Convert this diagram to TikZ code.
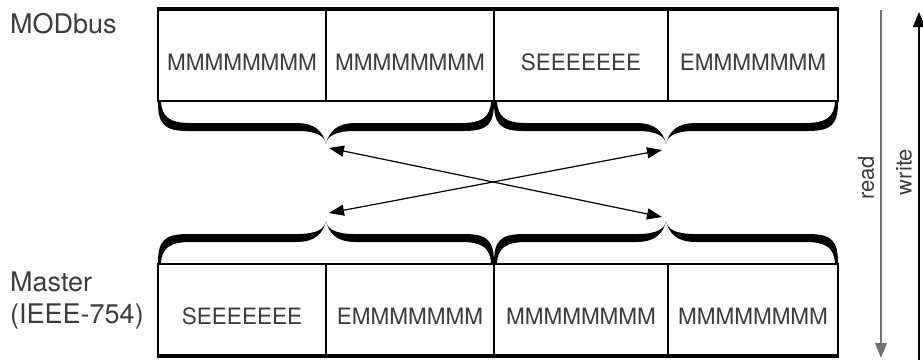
\documentclass[tikz,border=0pt]{standalone}
\usepackage{fontspec}
\setmainfont{TeX Gyre Heros}
\usetikzlibrary{arrows.meta}

\definecolor{inkgrey}{HTML}{3C3C3C}

\begin{document}
\begin{tikzpicture}[x=1pt,y=-1pt,
  cell/.style={draw=black, line width=2.6pt, minimum width=#1, minimum height=91pt, inner sep=0pt,
    text height=30pt, text depth=0pt, text=inkgrey, font=\fontsize{22.5}{22.5}\selectfont},
  side/.style={font=\fontsize{27}{32}\selectfont, text=inkgrey, inner sep=0pt},
  dirlabel/.style={rotate=90, font=\fontsize{22}{22}\selectfont, text=inkgrey, inner sep=0pt},
  swap/.style={line width=1.2pt, {Triangle[length=15pt,width=11pt]}-{Triangle[length=15pt,width=11pt]}}]
    \tikzset{halfbrace/.pic={
      % one half of a curly brace, end at (0,0), tip at (#1,42)
      \fill (0,0) .. controls (0,22) and (6,29) .. (30,29) -- (#1-28,29)
        .. controls (#1-8,29) and (#1-1,35) .. (#1,42)
        .. controls (#1-3,30) and (#1-10,21) .. (#1-30,21) -- (32,21)
        .. controls (12,21) and (4,15) .. (3,0) -- cycle;
    }}
    \useasboundingbox (0,0) rectangle (923,360);

    % MODbus word order
    \node[cell=168] (m1) at (242,55.5) {MMMMMMMM};
    \node[cell=168] (m2) at (410,55.5) {MMMMMMMM};
    \node[cell=174] (m3) at (581,55.5) {SEEEEEEE};
    \node[cell=170] (m4) at (753,55.5) {EMMMMMMM};
    \draw[line width=3.6pt] (m1.north west) -- (m4.north east);

    % master word order
    \node[cell=168] (s1) at (242,309.5) {SEEEEEEE};
    \node[cell=168] (s2) at (410,309.5) {EMMMMMMM};
    \node[cell=174] (s3) at (581,309.5) {MMMMMMMM};
    \node[cell=170] (s4) at (753,309.5) {MMMMMMMM};
    \draw[line width=3.4pt] (s1.south west) -- (s4.south east);

    \node[side, anchor=base west] (modbus) at (10,33) {MODbus};
    \node[side, anchor=base west, align=left] (master) at (10,323) {Master\\(IEEE-754)};

    % braces
    \pic at (158,102) {halfbrace=168};
    \pic[xscale=-1] at (494,102) {halfbrace=168};
    \pic at (494,102) {halfbrace=172};
    \pic[xscale=-1] at (838,102) {halfbrace=172};
    \pic[yscale=-1] at (158,263) {halfbrace=168};
    \pic[xscale=-1,yscale=-1] at (494,263) {halfbrace=168};
    \pic[yscale=-1] at (494,263) {halfbrace=172};
    \pic[xscale=-1,yscale=-1] at (838,263) {halfbrace=172};

    \coordinate (ul) at (329,148);
    \coordinate (ur) at (662,150);
    \coordinate (ll) at (329,213);
    \coordinate (lr) at (662,217);
    \draw[swap] (ul) -- (lr);
    \draw[swap] (ur) -- (ll);

    % read / write direction
    \coordinate (rtop) at (881,10);
    \coordinate (rbot) at (881,358);
    \coordinate (wtop) at (919,12);
    \coordinate (wbot) at (919,360);
    \draw[black!55, line width=1.5pt, -{Triangle[length=15pt,width=12pt]}] (rtop) -- (rbot);
    \draw[black, line width=1.5pt, -{Triangle[length=15pt,width=12pt]}] (wbot) -- (wtop);
    \node[dirlabel] (read) at (866,178) {read};
    \node[dirlabel] (write) at (904,172) {write};
\end{tikzpicture}
\end{document}
